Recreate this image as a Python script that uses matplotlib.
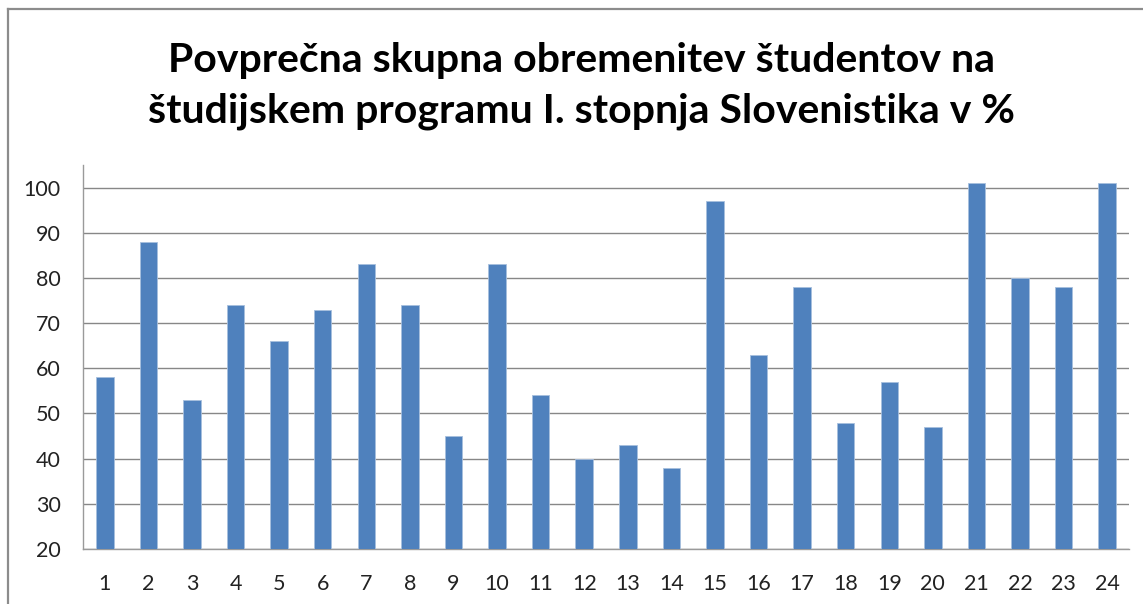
import matplotlib
matplotlib.use("Agg")
import matplotlib.pyplot as plt
from matplotlib.lines import Line2D

# data
categories = [str(i) for i in range(1, 25)]
values = [58, 88, 53, 74, 66, 73, 83, 74, 45, 83, 54, 40,
          43, 38, 97, 63, 78, 48, 57, 47, 101, 80, 78, 101]
y_ticks = [20, 30, 40, 50, 60, 70, 80, 90, 100]
title_lines = ["Povprečna skupna obremenitev študentov na",
               "študijskem programu I. stopnja Slovenistika v %"]

W, H = 1143, 604
fig = plt.figure(figsize=(W / 100, H / 100), dpi=100)
ax = fig.add_axes([83 / W, 1 - 549 / H, (1129 - 83) / W, (549 - 165) / H])

x = list(range(1, len(values) + 1))
ax.bar(x, values, width=0.4, bottom=0, color="#4F81BD",
       edgecolor="#A7BFDE", linewidth=0.6, zorder=3)

ax.set_xlim(0.5, 24.5)
ax.set_ylim(20, 105)
ax.set_yticks(y_ticks)
ax.set_xticks(x)
ax.set_xticklabels(categories)
ax.tick_params(length=0, labelsize=15.5, labelcolor="#222222")
ax.tick_params(axis="y", pad=16)
ax.tick_params(axis="x", pad=18)
for lab in ax.get_xticklabels() + ax.get_yticklabels():
    lab.set_family("Lato")

ax.grid(axis="y", color="#878787", linewidth=1.0, zorder=1)
for s in ["top", "right"]:
    ax.spines[s].set_visible(False)
for s in ["left", "bottom"]:
    ax.spines[s].set_color("#9a9a9a")
    ax.spines[s].set_linewidth(1.0)

# title, two centred lines
fig.text(581 / W, 1 - 72 / H, title_lines[0], ha="center", va="baseline",
         fontsize=29.5, fontweight="bold", family="Lato", color="black")
fig.text(581 / W, 1 - 123 / H, title_lines[1], ha="center", va="baseline",
         fontsize=29.5, fontweight="bold", family="Lato", color="black")

# chart area border (cropped on right and bottom)
fig.add_artist(Line2D([8 / W, 8 / W], [0, 1 - 9 / H], color="#8c8c8c", linewidth=1.6))
fig.add_artist(Line2D([8 / W, 1], [1 - 9 / H, 1 - 9 / H], color="#8c8c8c", linewidth=1.6))

fig.savefig("out.png", dpi=100)
